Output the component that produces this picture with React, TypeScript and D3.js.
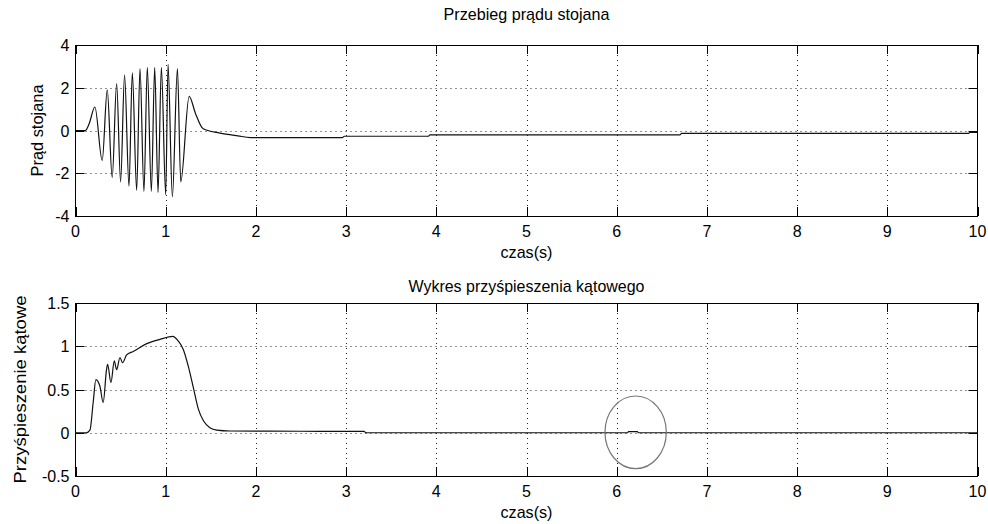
import React, { useEffect, useRef } from 'react';
import * as d3 from 'd3';

// stator current (time in s)
const currentTime = [0, 0.11, 0.15, 0.215, 0.296, 0.352, 0.407, 0.456, 0.5, 0.544, 0.593, 0.63, 0.678, 0.715, 0.759, 0.796,
  0.841, 0.878, 0.915, 0.952, 1.0, 1.026, 1.074, 1.13, 1.167, 1.26, 1.33, 1.4, 1.45, 1.6, 1.8, 1.94,
  2.96, 2.98, 3.91, 3.93, 6.7, 6.72, 9.9, 9.92, 10];
const currentValue = [0, 0, 0.3, 1.1, -1.4, 1.9, -2.2, 2.2, -2.4, 2.6, -2.6, 2.7, -2.8, 2.9, -2.85, 2.95,
  -2.85, 2.95, -2.9, 2.95, -3.0, 3.1, -3.1, 2.9, -2.4, 1.6, 0.8, 0.15, 0.02, -0.12, -0.25, -0.33,
  -0.33, -0.27, -0.27, -0.2, -0.2, -0.13, -0.13, -0.09, -0.09];

// angular acceleration
const accelTime = [0, 0.12, 0.16, 0.196, 0.226, 0.27, 0.307, 0.344, 0.356, 0.393, 0.43, 0.456, 0.493, 0.522, 0.567,
  0.64, 0.79, 0.937, 1.078, 1.14, 1.196, 1.25, 1.307, 1.363, 1.42, 1.49, 1.567, 1.71, 3.2, 3.22,
  6.12, 6.13, 6.23, 6.24, 10];
const accelValue = [0, 0, 0.03, 0.35, 0.615, 0.54, 0.35, 0.73, 0.79, 0.58, 0.83, 0.73, 0.87, 0.81, 0.9,
  0.94, 1.03, 1.08, 1.115, 1.06, 0.96, 0.77, 0.52, 0.27, 0.135, 0.058, 0.03, 0.02, 0.015, 0,
  0, 0.012, 0.012, 0, 0];

const xTicks = [0, 1, 2, 3, 4, 5, 6, 7, 8, 9, 10];
const currentTicks = [-4, -2, 0, 2, 4];
const accelTicks = [-0.5, 0, 0.5, 1, 1.5];

// hand-drawn ring around the small blip (centre t, value, radii in data units)
const ring = { t: 6.21, v: 0.005, rt: 0.34, rv: 0.42 };

const font = "'Liberation Sans', Arial, sans-serif";

const App = () => {
  const svgRef = useRef<SVGSVGElement>(null);

  useEffect(() => {
    const svg = d3.select(svgRef.current);
    svg.selectAll('*').remove();

    const left = 75.5, right = 977.5;

    // narrow, tall text like the original bitmap font
    const label = (g: any, x: number, y: number, txt: string, len: number, size = 17) =>
      g.append('text').attr('x', x).attr('y', y).attr('text-anchor', 'middle')
        .attr('textLength', len).attr('lengthAdjust', 'spacingAndGlyphs')
        .style('font-family', font).style('font-size', `${size}px`).text(txt);

    const drawPanel = (opts: any) => {
      const { top, bottom, yDomain, yTicks, title, titleY, titleLen, yLabel, yLabelX, yLabelLen, times, values } = opts;
      const x = d3.scaleLinear().domain([0, 10]).range([left, right]);
      const y = d3.scaleLinear().domain(yDomain).range([bottom, top]);
      const g = svg.append('g');

      // grid
      g.selectAll('.vgrid').data(xTicks.slice(1, -1)).enter().append('line')
        .attr('x1', d => Math.round(x(d)) + 0.5).attr('x2', d => Math.round(x(d)) + 0.5)
        .attr('y1', top).attr('y2', bottom)
        .attr('stroke', '#222').attr('stroke-dasharray', '1,4');
      g.selectAll('.hgrid').data(yTicks.slice(1, -1)).enter().append('line')
        .attr('y1', d => Math.round(y(d)) + 0.5).attr('y2', d => Math.round(y(d)) + 0.5)
        .attr('x1', left).attr('x2', right)
        .attr('stroke', '#222').attr('stroke-dasharray', '1,4');

      // ticks on all four sides, inward
      const tl = 9;
      xTicks.forEach(d => {
        const px = Math.round(x(d)) + 0.5;
        g.append('line').attr('x1', px).attr('x2', px).attr('y1', bottom).attr('y2', bottom - tl).attr('stroke', '#000');
        g.append('line').attr('x1', px).attr('x2', px).attr('y1', top).attr('y2', top + tl).attr('stroke', '#000');
        g.append('text').attr('x', x(d)).attr('y', bottom + 21).attr('text-anchor', 'middle')
          .style('font-family', font).style('font-size', '16px').text(d);
      });
      yTicks.forEach(d => {
        const py = Math.round(y(d)) + 0.5;
        g.append('line').attr('y1', py).attr('y2', py).attr('x1', left).attr('x2', left + tl).attr('stroke', '#000');
        g.append('line').attr('y1', py).attr('y2', py).attr('x1', right).attr('x2', right - tl).attr('stroke', '#000');
        g.append('text').attr('x', left - 6).attr('y', y(d) + 6).attr('text-anchor', 'end')
          .style('font-family', font).style('font-size', '16px').text(d);
      });

      // box
      g.append('rect').attr('x', left).attr('y', top + 0.5).attr('width', right - left).attr('height', bottom - top)
        .attr('fill', 'none').attr('stroke', '#000');

      // series
      const pts = times.map((t: number, i: number) => [t, values[i]]);
      const line = d3.line<number[]>().x(d => x(d[0])).y(d => y(d[1])).curve(d3.curveMonotoneX);
      g.append('path').attr('d', line(pts)).attr('fill', 'none').attr('stroke', '#111').attr('stroke-width', 1.2);

      // texts
      const cx = (left + right) / 2;
      label(g, cx, titleY, title, titleLen);
      label(g, cx, bottom + 42, 'czas(s)', 52);
      label(g, 0, 0, yLabel, yLabelLen)
        .attr('transform', `translate(${yLabelX},${(top + bottom) / 2}) rotate(-90)`);

      return { x, y, g };
    };

    drawPanel({
      top: 45, bottom: 216, yDomain: [-4, 4], yTicks: currentTicks,
      title: 'Przebieg prądu stojana', titleY: 20, titleLen: 166,
      yLabel: 'Prąd stojana', yLabelX: 43, yLabelLen: 92,
      times: currentTime, values: currentValue,
    });

    const p2 = drawPanel({
      top: 303, bottom: 476, yDomain: [-0.5, 1.5], yTicks: accelTicks,
      title: 'Wykres przyśpieszenia kątowego', titleY: 292, titleLen: 236,
      yLabel: 'Przyśpieszenie kątowe', yLabelX: 26, yLabelLen: 188,
      times: accelTime, values: accelValue,
    });

    p2.g.append('ellipse')
      .attr('cx', p2.x(ring.t)).attr('cy', p2.y(ring.v))
      .attr('rx', p2.x(ring.t + ring.rt) - p2.x(ring.t))
      .attr('ry', p2.y(0) - p2.y(ring.rv))
      .attr('fill', 'none').attr('stroke', '#777').attr('stroke-width', 1.2);
  }, []);

  return (
    <svg ref={svgRef} width={988} height={524}
      style={{ position: 'absolute', left: 0, top: 0, background: '#fff' }}></svg>
  );
};

export default App;
